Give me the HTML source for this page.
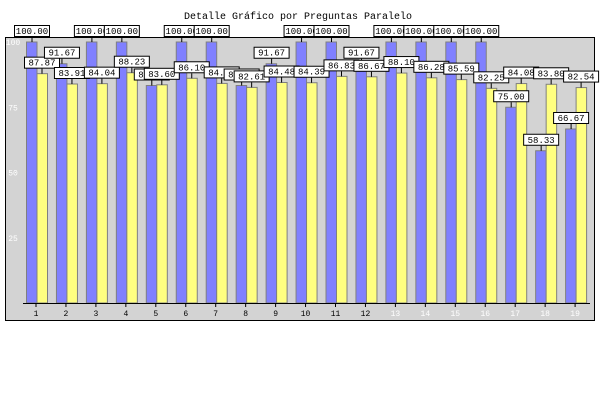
<!DOCTYPE html>
<html><head><meta charset="utf-8"><style>body{margin:0;background:#fff}svg{display:block}</style></head>
<body>
<svg id="c" width="600" height="400" xmlns="http://www.w3.org/2000/svg">
<rect x="5.5" y="37.5" width="589" height="283" fill="#d3d3d3" stroke="#000"/>
<text x="298" y="19" text-anchor="middle" font-family="Liberation Mono, monospace" font-size="10">Detalle Gráfico por Preguntas Paralelo</text>
<g id="bars"></g><g id="labels"></g>
</svg>
<script>
const categories=["1","2","3","4","5","6","7","8","9","10","11","12","13","14","15","16","17","18","19"];
const seriesA=[100,91.67,100,100,83.33,100,100,83.33,91.67,100,100,91.67,100,100,100,100,75.00,58.33,66.67];
const seriesB=[87.87,83.91,84.04,88.23,83.60,86.10,84.13,82.61,84.48,84.39,86.83,86.67,88.10,86.28,85.59,82.25,84.08,83.80,82.54];
const yTicks=[25,50,75,100];
const NS="http://www.w3.org/2000/svg";
const svg=document.getElementById('c'),bars=document.getElementById('bars'),labels=document.getElementById('labels');
const y=v=>303-v*2.61;
const x=i=>37+i*29.95;
function mk(t,a,p){const e=document.createElementNS(NS,t);for(const k in a)e.setAttribute(k,a[k]);(p||svg).appendChild(e);return e;}
yTicks.forEach(t=>{const e=mk('text',{x:13,y:y(t)+3,'text-anchor':'middle','font-family':'Liberation Mono, monospace','font-size':8,fill:'#fff'});e.textContent=t;

});
function label(cx,v,p){const by=y(v);
const l=mk('line',{x1:cx,y1:by,x2:cx,y2:by-5,stroke:'#000'},p);


const r=mk('rect',{x:cx-17.5,y:by-16.5,width:35,height:11,fill:'#fff',stroke:'#000'},p);


const t=mk('text',{x:cx,y:by-8,'text-anchor':'middle','font-family':'Liberation Mono, monospace','font-size':9},p);t.textContent=v.toFixed(2);

}
categories.forEach((c,i)=>{const cx=x(i);
const a=mk('rect',{x:cx-10.5,y:y(seriesA[i]),width:10.5,height:303-y(seriesA[i]),fill:'#8080ff',stroke:'#808080'},bars);


const b=mk('rect',{x:cx,y:y(seriesB[i]),width:10.5,height:303-y(seriesB[i]),fill:'#ffff80',stroke:'#808080'},bars);


label(cx-5,seriesA[i],labels);label(cx+5,seriesB[i],labels);
const tk=mk('line',{x1:cx-1,y1:303,x2:cx-1,y2:307,stroke:'#000'});


const t=mk('text',{x:cx-1,y:316,'text-anchor':'middle','font-family':'Liberation Mono, monospace','font-size':8,fill:i>=12?'#fff':'#000'});t.textContent=c;

});
const ax=mk('line',{x1:23,y1:303.5,x2:590,y2:303.5,stroke:'#000'});


</script>
</body></html>
